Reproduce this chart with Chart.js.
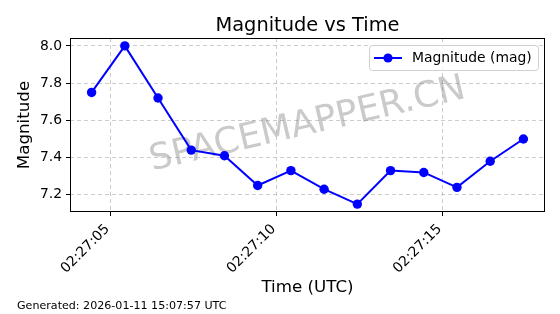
<!DOCTYPE html>
<html>
<head>
<meta charset="utf-8">
<script src="https://cdn.jsdelivr.net/npm/chart.js@4.4.1/dist/chart.umd.min.js"></script>
<style>
  html, body { margin: 0; padding: 0; background: #fff; }
  #wrap { width: 560px; height: 314px; }
</style>
</head>
<body>
<div id="wrap"><canvas id="chart" width="560" height="314"></canvas></div>
<script>
// time stamps (UTC) and magnitudes
const times = ['02:27:04.43', '02:27:05.43', '02:27:06.43', '02:27:07.43', '02:27:08.43',
  '02:27:09.43', '02:27:10.43', '02:27:11.43', '02:27:12.43', '02:27:13.43',
  '02:27:14.43', '02:27:15.43', '02:27:16.43', '02:27:17.43'];
const magnitudes = [7.75, 8.00, 7.72, 7.44, 7.41, 7.25, 7.33, 7.23, 7.15, 7.33, 7.32, 7.24, 7.38, 7.50];
const xTickLabels = ['02:27:05', '02:27:10', '02:27:15'];
const yTicks = [7.2, 7.4, 7.6, 7.8, 8.0];

const titleText = 'Magnitude vs Time';
const footerText = 'Generated: 2026-01-11 15:07:57 UTC';
const watermark = 'SPACEMAPPER.CN';

// seconds after 02:27:00
const toSec = s => {
  const p = s.split(':');
  return (+p[1] - 27) * 60 + parseFloat(p[2]);
};
const xTicks = xTickLabels.map(toSec);
const points = times.map((t, i) => ({ x: toSec(t), y: magnitudes[i] }));

const FONT = "'DejaVu Sans', sans-serif";
const gridColor = 'rgba(176,176,176,0.65)';

const extras = {
  id: 'extras',
  beforeDatasetsDraw(chart) {
    const { ctx, chartArea: a } = chart;
    ctx.save();
    ctx.translate((a.left + a.right) / 2, (a.top + a.bottom) / 2);
    ctx.rotate(-13 * Math.PI / 180);
    ctx.font = '36px ' + FONT;
    ctx.fillStyle = 'rgba(128,128,128,0.42)';
    ctx.textAlign = 'center';
    ctx.textBaseline = 'middle';
    ctx.fillText(watermark, 0, 0);
    ctx.restore();
  },
  afterDatasetsDraw(chart) {
    const { ctx, chartArea: a } = chart;
    ctx.save();
    // frame
    ctx.strokeStyle = '#000';
    ctx.lineWidth = 1;
    ctx.strokeRect(a.left + 0.5, a.top + 0.5, a.right - a.left - 1, a.bottom - a.top - 1);

    // title
    ctx.fillStyle = '#000';
    ctx.font = '19.4px ' + FONT;
    ctx.textAlign = 'center';
    ctx.textBaseline = 'alphabetic';
    ctx.fillText(titleText, (a.left + a.right) / 2, 31);

    // footer
    ctx.font = '11.1px ' + FONT;
    ctx.textAlign = 'left';
    ctx.fillText(footerText, 17, 308.5);

    // legend
    const ds = chart.data.datasets[0];
    const bx = 369, by = 45, bw = 169, bh = 25;
    ctx.fillStyle = 'rgba(255,255,255,0.8)';
    ctx.strokeStyle = '#d0d0d0';
    ctx.beginPath();
    ctx.roundRect(bx + 0.5, by + 0.5, bw, bh, 3);
    ctx.fill();
    ctx.stroke();
    const ly = by + bh / 2 + 0.5;
    ctx.strokeStyle = ds.borderColor;
    ctx.lineWidth = 2;
    ctx.beginPath();
    ctx.moveTo(bx + 5, ly);
    ctx.lineTo(bx + 33, ly);
    ctx.stroke();
    ctx.fillStyle = ds.pointBackgroundColor;
    ctx.beginPath();
    ctx.arc(bx + 19, ly, 4.6, 0, Math.PI * 2);
    ctx.fill();
    ctx.fillStyle = '#000';
    ctx.font = '13.9px ' + FONT;
    ctx.textBaseline = 'middle';
    ctx.fillText(ds.label, bx + 43, ly);
    ctx.restore();
  }
};

new Chart(document.getElementById('chart'), {
  type: 'line',
  data: {
    datasets: [{
      label: 'Magnitude (mag)',
      data: points,
      borderColor: '#0000ff',
      backgroundColor: '#0000ff',
      pointBackgroundColor: '#0000ff',
      pointBorderColor: '#0000ff',
      borderWidth: 2,
      pointRadius: 4.7,
      pointBorderWidth: 0,
      tension: 0,
      fill: false
    }]
  },
  options: {
    responsive: false,
    animation: false,
    layout: { padding: { left: 0, top: 38, right: 15, bottom: 0 } },
    plugins: {
      legend: { display: false },
      title: { display: false },
      tooltip: { enabled: false }
    },
    scales: {
      x: {
        type: 'linear',
        min: 3.78,
        max: 18.08,
        afterBuildTicks: s => { s.ticks = xTicks.map(v => ({ value: v })); },
        afterFit: s => { s.height = 102; },
        ticks: {
          autoSkip: false,
          minRotation: 45,
          maxRotation: 45,
          padding: 5,
          labelOffset: -3,
          color: '#000',
          font: { family: FONT, size: 13.9 },
          callback: (v, i) => xTickLabels[i]
        },
        grid: {
          color: gridColor,
          tickBorderDash: [],
          tickColor: '#000',
          tickWidth: 1,
          tickLength: 4
        },
        border: { display: false, dash: [4, 3] },
        title: {
          display: true,
          text: 'Time (UTC)',
          color: '#000',
          font: { family: FONT, size: 16.7 },
          padding: { top: 0, bottom: 16 }
        }
      },
      y: {
        min: 7.1075,
        max: 8.0425,
        afterBuildTicks: s => { s.ticks = yTicks.map(v => ({ value: v })); },
        afterFit: s => { s.width = 70; },
        ticks: {
          padding: 4,
          color: '#000',
          font: { family: FONT, size: 13.9 },
          callback: v => v.toFixed(1)
        },
        grid: {
          color: gridColor,
          tickBorderDash: [],
          tickColor: '#000',
          tickWidth: 1,
          tickLength: 4
        },
        border: { display: false, dash: [4, 3] },
        title: {
          display: true,
          text: 'Magnitude',
          color: '#000',
          font: { family: FONT, size: 16.7 },
          padding: { top: 14.5, bottom: 0 }
        }
      }
    }
  },
  plugins: [extras]
});
</script>
</body>
</html>
